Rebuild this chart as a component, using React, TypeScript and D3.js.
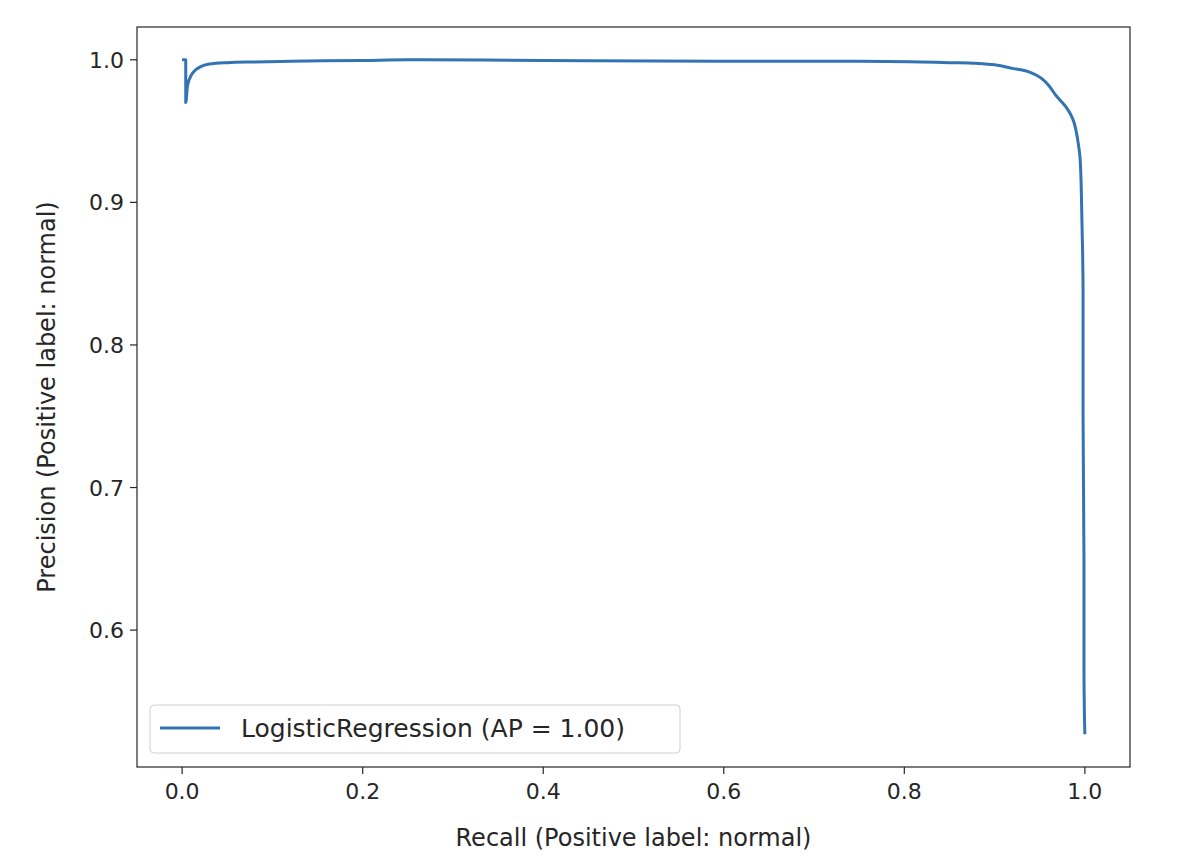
import React from 'react';
import * as d3 from 'd3';

const recall = [0, 0.004, 0.004, 0.006, 0.01, 0.015, 0.02, 0.03, 0.05, 0.08, 0.12, 0.2, 0.25, 0.4, 0.6, 0.75, 0.85, 0.88, 0.9, 0.92, 0.94, 0.952, 0.96, 0.968, 0.975, 0.979, 0.984, 0.988, 0.99, 0.993, 0.995, 0.996, 0.997, 0.998, 0.998, 0.999, 0.999, 1.0];
const precision = [1.0, 1.0, 0.970, 0.982, 0.989, 0.993, 0.995, 0.997, 0.998, 0.9985, 0.999, 0.9995, 1.0, 0.9995, 0.999, 0.999, 0.998, 0.9975, 0.9965, 0.994, 0.991, 0.987, 0.982, 0.975, 0.970, 0.967, 0.962, 0.956, 0.951, 0.940, 0.928, 0.91, 0.88, 0.84, 0.75, 0.65, 0.57, 0.527];
const xTicks = [0, 0.2, 0.4, 0.6, 0.8, 1.0];
const yTicks = [0.6, 0.7, 0.8, 0.9, 1.0];
const seriesLabel = 'LogisticRegression (AP = 1.00)';

export default function App() {
  const W = 1184, H = 864;
  const L = 137, R = 1130, T = 27, B = 767;
  const x = d3.scaleLinear().domain([-0.05, 1.05]).range([L, R]);
  const y = d3.scaleLinear().domain([0.504, 1.023]).range([B, T]);
  const pts = recall.map((r, i) => [r, precision[i]] as [number, number]);
  const line = d3.line<[number, number]>().x(d => x(d[0])).y(d => y(d[1])).curve(d3.curveMonotoneX);
  const font = 'DejaVu Sans, sans-serif';
  const fg = '#262626';
  return (
    <svg width={W} height={H} style={{ position: 'absolute', left: 0, top: 0, background: '#fff' }} fontFamily={font}>
      <path d={line(pts) ?? ''} fill="none" stroke="#3274b3" strokeWidth={3} strokeLinejoin="round" />
      <rect x={L} y={T} width={R - L} height={B - T} fill="none" stroke={fg} strokeWidth={1.2} />
      {xTicks.map(t => (
        <g key={t}>
          <line x1={x(t)} x2={x(t)} y1={B} y2={B + 7} stroke={fg} strokeWidth={1.2} />
          <text x={x(t)} y={B + 32} textAnchor="middle" fontSize={22} fill={fg}>{t.toFixed(1)}</text>
        </g>
      ))}
      {yTicks.map(t => (
        <g key={t}>
          <line x1={L - 7} x2={L} y1={y(t)} y2={y(t)} stroke={fg} strokeWidth={1.2} />
          <text x={L - 13} y={y(t) + 8} textAnchor="end" fontSize={22} fill={fg}>{t.toFixed(1)}</text>
        </g>
      ))}
      <text x={(L + R) / 2} y={846} textAnchor="middle" fontSize={24} fill={fg}>Recall (Positive label: normal)</text>
      <text transform={`translate(55,${(T + B) / 2}) rotate(-90)`} textAnchor="middle" fontSize={24} fill={fg}>Precision (Positive label: normal)</text>
      <rect x={150} y={705} width={530} height={48} rx={4} fill="#fff" fillOpacity={0.8} stroke="#d0d0d0" />
      <line x1={160} x2={220} y1={728} y2={728} stroke="#3274b3" strokeWidth={3} />
      <text x={241} y={737} fontSize={25} fill={fg}>{seriesLabel}</text>
    </svg>
  );
}
